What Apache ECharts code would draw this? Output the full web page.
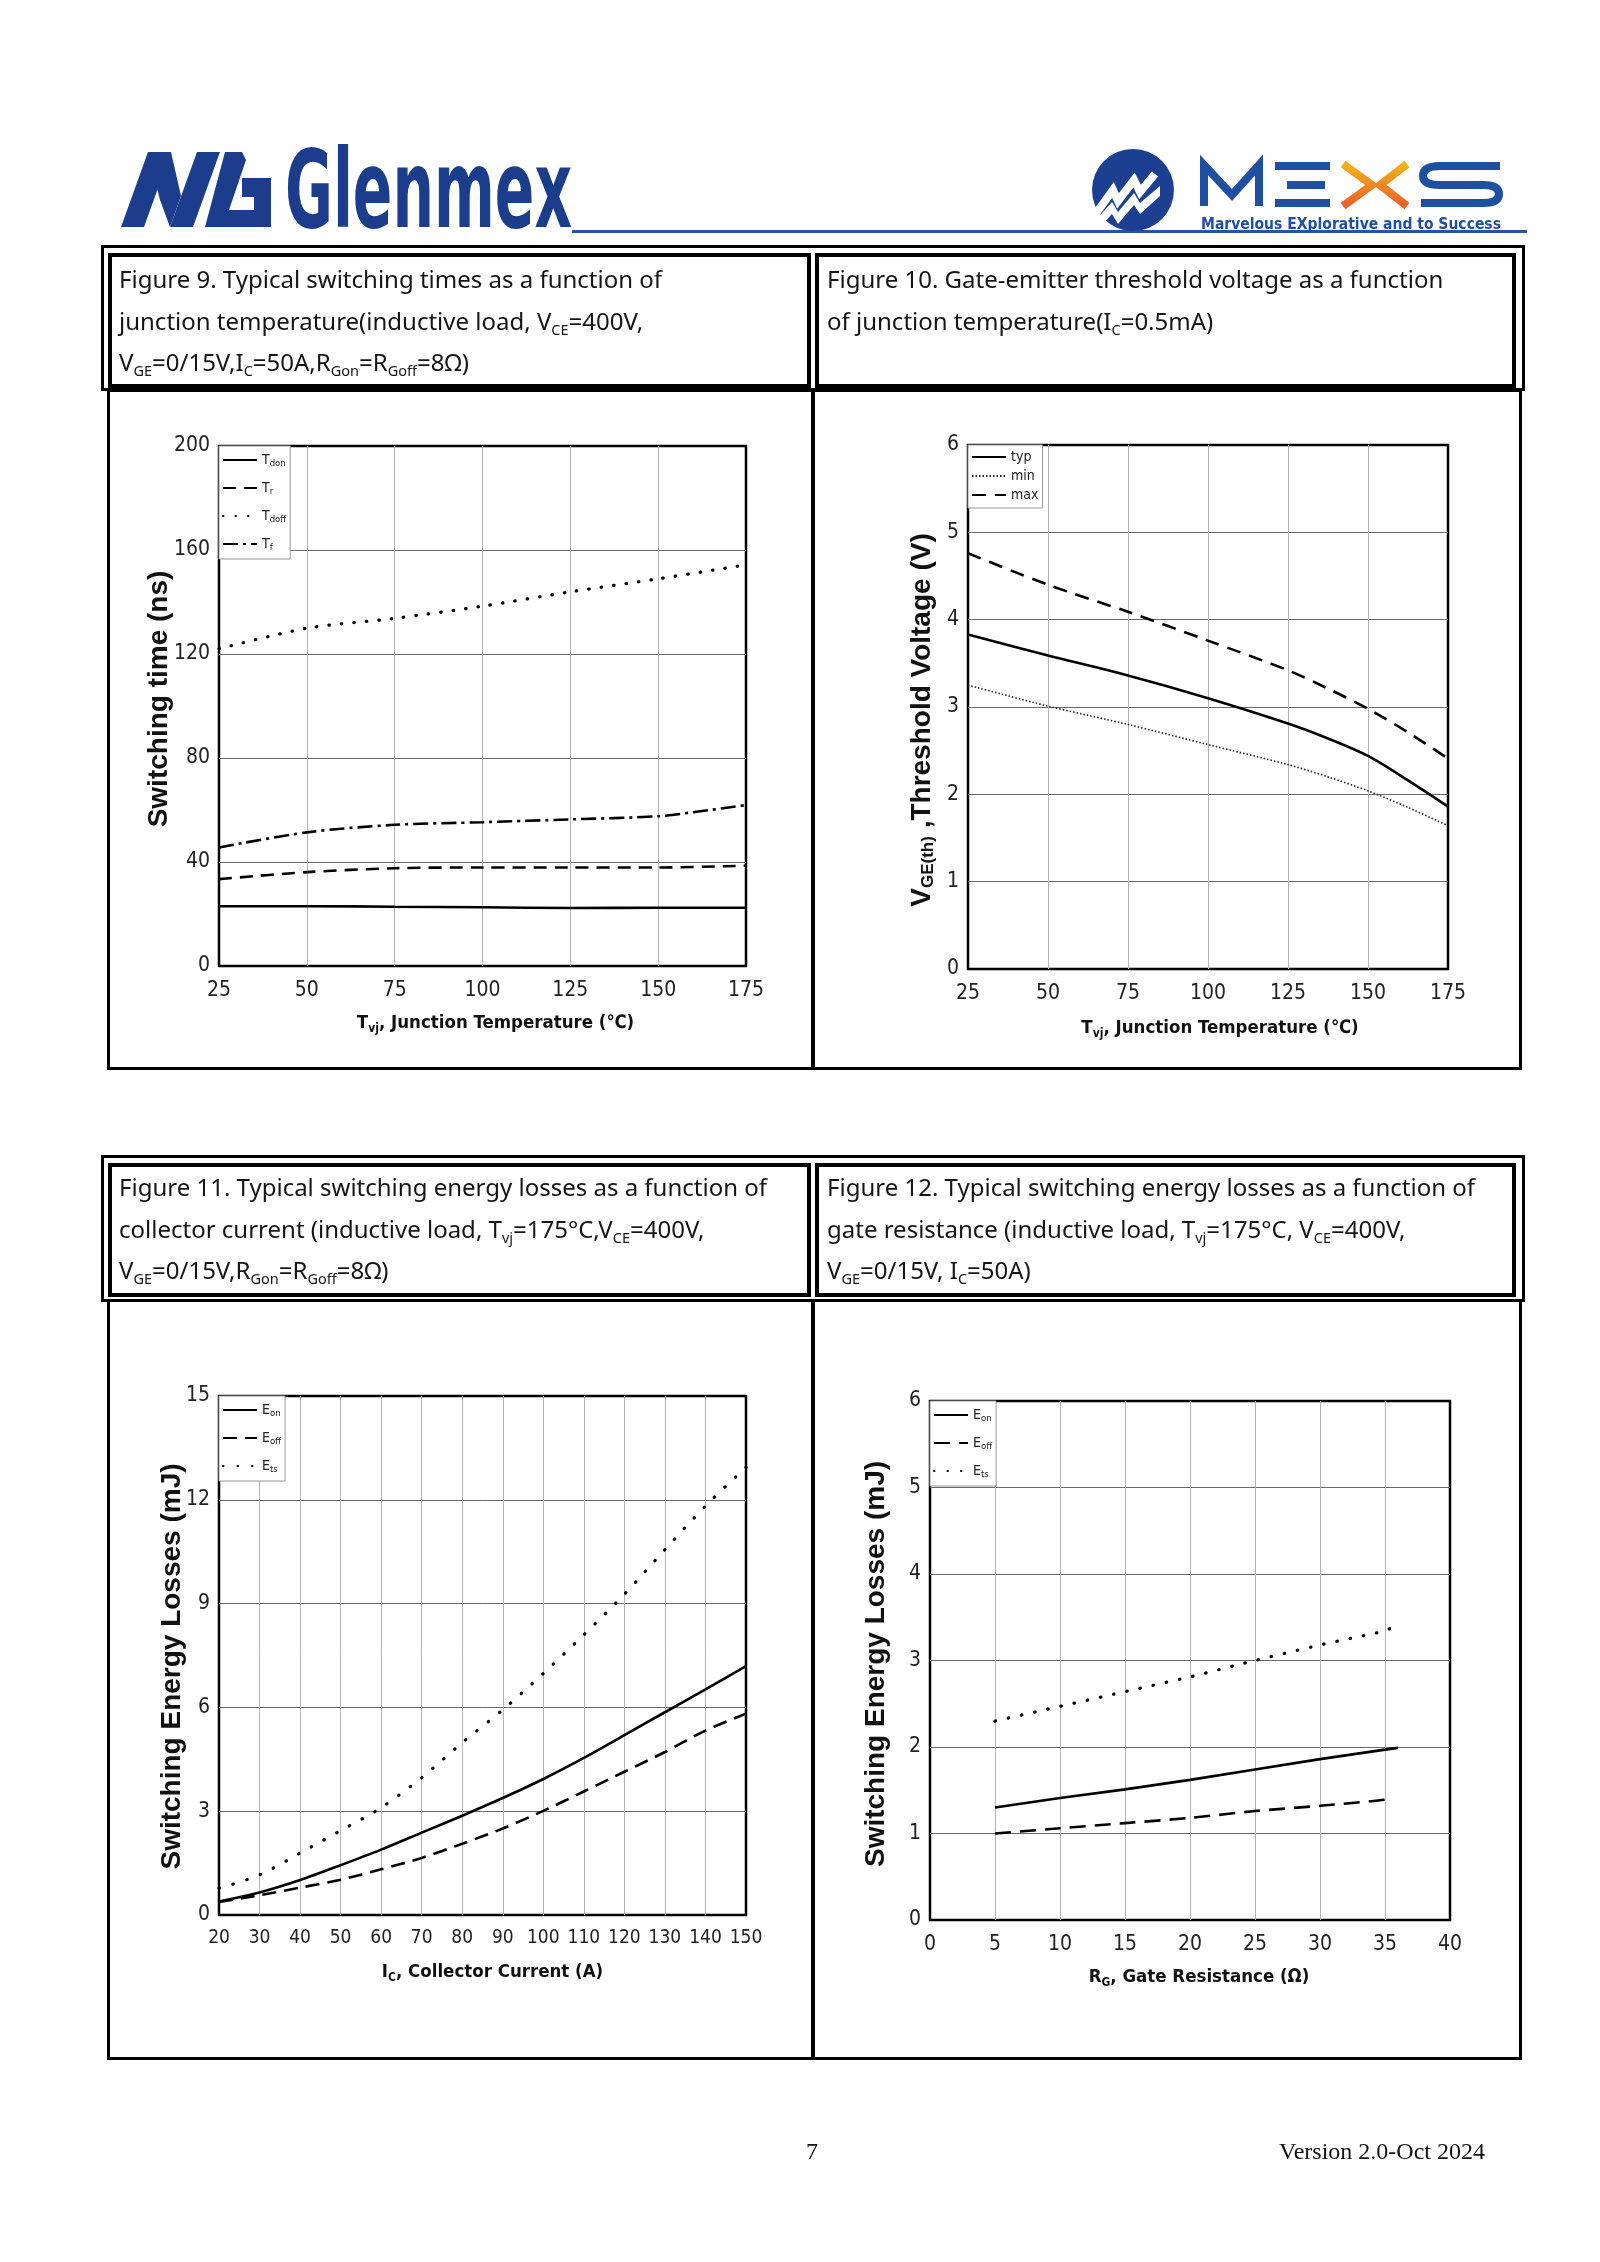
<!DOCTYPE html>
<html><head><meta charset="utf-8">
<script src="https://cdn.jsdelivr.net/npm/echarts@6/dist/echarts.min.js"></script>
<style>
html,body{margin:0;padding:0;background:#fff;}
#page{position:relative;width:1600px;height:2262px;overflow:hidden;background:#fff;}
#chart{position:absolute;left:0;top:0;width:1600px;height:2262px;}
.box{position:absolute;box-sizing:border-box;border:3px solid #000;}
.cell{position:absolute;box-sizing:border-box;border:4px solid #000;}
.vl{position:absolute;background:#000;}
.cap{position:absolute;font-family:'Noto Sans',sans-serif;font-size:24px;line-height:41.5px;color:#151515;white-space:nowrap;}
.cap sub{font-size:14.5px;line-height:0;vertical-align:-5px;}
.foot{position:absolute;font-family:'Liberation Serif','Times New Roman',serif;font-size:24px;color:#111;white-space:nowrap;line-height:30px;}
</style></head>
<body><div id="page">
<div id="chart"></div>

<svg style="position:absolute;left:0;top:0" width="1600" height="245">
  <g fill="#1b3d8c">
    <polygon points="121,227 144,227 171,152 148,152"/>
    <polygon points="148,152 171,152 181,196 170,227 160,200"/>
    <polygon points="170,227 193,227 220,152 197,152"/>
    <polygon points="205,227 271,227 271,178 242,178 242,197 254,197 254,210 229,210 246,160 242,152 225,152"/>
  </g>
  <text transform="translate(285,227) scale(1,1.3)" x="0" y="0" font-family="'Liberation Sans Narrow','DejaVu Sans Condensed',sans-serif" font-weight="bold" font-size="83" fill="#1b3d8c" textLength="287" lengthAdjust="spacingAndGlyphs">Glenmex</text>
  <rect x="572" y="230" width="955" height="3" fill="#2d50a0"/>
  <circle cx="1133" cy="190" r="41" fill="#1d3f91"/>
  <polygon points="1094,222 1112,202 1118,212 1134,193 1140,203 1160,186 1160,196 1140,214 1134,205 1118,224 1112,214 1099,228" fill="#fff"/>
  <polyline points="1097,212 1113,190 1118,201 1134,180 1140,192 1155,174" fill="none" stroke="#fff" stroke-width="8" stroke-linejoin="miter"/>
  <g fill="none" stroke="#1f4fa0" stroke-width="8">
    <polyline points="1204,206 1204,165 1232,195 1259,165 1259,206"/>
    <line x1="1275" y1="166" x2="1330" y2="166"/>
    <line x1="1287" y1="185" x2="1325" y2="185"/>
    <line x1="1275" y1="203" x2="1330" y2="203"/>
    <path d="M1500,166 H1440 Q1423,166 1423,176 Q1423,185 1440,185 H1483 Q1499,185 1499,194 Q1499,203 1483,203 H1421"/>
  </g>
  <defs><linearGradient id="og" x1="0" y1="0" x2="0" y2="1"><stop offset="0" stop-color="#f6b21b"/><stop offset="1" stop-color="#e8602a"/></linearGradient></defs>
  <g fill="none" stroke="url(#og)" stroke-width="8">
    <polyline points="1343,164 1372,185 1343,206"/>
    <polyline points="1407,164 1380,185 1407,206"/>
  </g>
  <text x="1201" y="229" font-family="'Liberation Sans Narrow','DejaVu Sans Condensed',sans-serif" font-weight="bold" font-size="15" fill="#1f4fa0" textLength="300" lengthAdjust="spacingAndGlyphs">Marvelous EXplorative and to Success</text>
</svg>

<!-- header 1 -->
<div class="box" style="left:101px;top:245px;width:1424px;height:146px;"></div>
<div class="cell" style="left:108px;top:253px;width:703px;height:135px;"></div>
<div class="cell" style="left:815px;top:253px;width:701px;height:135px;"></div>
<div class="cap" style="left:119px;top:258px;">Figure 9. Typical switching times as a function of<br>junction temperature(inductive load, V<sub>CE</sub>=400V,<br>V<sub>GE</sub>=0/15V,I<sub>C</sub>=50A,R<sub>Gon</sub>=R<sub>Goff</sub>=8Ω)</div>
<div class="cap" style="left:827px;top:258px;">Figure 10. Gate-emitter threshold voltage as a function<br>of junction temperature(I<sub>C</sub>=0.5mA)</div>
<!-- body 1 -->
<div class="box" style="left:107px;top:389px;width:1415px;height:681px;"></div>
<div class="vl" style="left:811px;top:391px;width:4px;height:677px;"></div>

<!-- header 2 -->
<div class="box" style="left:101px;top:1155px;width:1424px;height:147px;"></div>
<div class="cell" style="left:108px;top:1163px;width:703px;height:134px;"></div>
<div class="cell" style="left:815px;top:1163px;width:701px;height:134px;"></div>
<div class="cap" style="left:119px;top:1166px;">Figure 11. Typical switching energy losses as a function of<br>collector current (inductive load, T<sub>vj</sub>=175°C,V<sub>CE</sub>=400V,<br>V<sub>GE</sub>=0/15V,R<sub>Gon</sub>=R<sub>Goff</sub>=8Ω)</div>
<div class="cap" style="left:827px;top:1166px;">Figure 12. Typical switching energy losses as a function of<br>gate resistance (inductive load, T<sub>vj</sub>=175°C, V<sub>CE</sub>=400V,<br>V<sub>GE</sub>=0/15V, I<sub>C</sub>=50A)</div>
<!-- body 2 -->
<div class="box" style="left:107px;top:1299px;width:1415px;height:761px;"></div>
<div class="vl" style="left:811px;top:1301px;width:4px;height:757px;"></div>

<div class="foot" style="left:762px;width:100px;text-align:center;top:2136px;">7</div>
<div class="foot" style="left:1185px;width:300px;text-align:right;top:2136px;">Version 2.0-Oct 2024</div>
</div>

<script>
// ---------- Figure 9: switching times vs junction temperature ----------
const fig9Temp = [25, 50, 75, 100, 125, 150, 175];
const fig9TempTf = [25, 50, 75, 100, 125, 150, 162.5, 175];
const fig9Tdon = [23.0, 23.0, 22.8, 22.6, 22.3, 22.4, 22.4];
const fig9Tr = [33.4, 36.1, 37.6, 37.9, 37.9, 37.9, 38.6];
const fig9Tdoff = [122.0, 129.9, 133.7, 138.4, 143.9, 148.9, 154.3];
const fig9Tf = [45.6, 51.4, 54.3, 55.3, 56.4, 57.6, 59.6, 61.9];

// ---------- Figure 10: gate-emitter threshold voltage ----------
const fig10Temp = [25, 50, 75, 100, 125, 137.5, 150, 162.5, 175];
const fig10Typ = [3.83, 3.59, 3.36, 3.10, 2.81, 2.64, 2.44, 2.16, 1.86];
const fig10Min = [3.25, 3.01, 2.80, 2.57, 2.34, 2.20, 2.04, 1.85, 1.64];
const fig10Max = [4.76, 4.40, 4.09, 3.76, 3.42, 3.21, 2.98, 2.71, 2.41];

// ---------- Figure 11: energy losses vs collector current ----------
const fig11Ic = [20, 30, 40, 50, 60, 70, 80, 90, 100, 110, 120, 130, 140, 150];
const fig11Eon = [0.39, 0.65, 1.01, 1.44, 1.89, 2.38, 2.87, 3.38, 3.93, 4.54, 5.20, 5.86, 6.52, 7.19];
const fig11Eoff = [0.38, 0.57, 0.79, 1.02, 1.32, 1.65, 2.06, 2.50, 3.01, 3.57, 4.14, 4.71, 5.33, 5.82];
const fig11Ets = [0.77, 1.16, 1.79, 2.44, 3.10, 3.97, 4.98, 5.93, 6.98, 8.10, 9.27, 10.56, 11.82, 12.94];

// ---------- Figure 12: energy losses vs gate resistance ----------
const fig12RgOn = [5, 10, 15, 20, 25, 30, 35, 36];
const fig12RgOff = [5, 10, 15, 20, 25, 30, 35, 35.5];
const fig12RgTs = [5, 10, 15, 20, 25, 30, 35, 35.6];
const fig12Eon = [1.30, 1.41, 1.51, 1.62, 1.74, 1.86, 1.97, 1.99];
const fig12Eoff = [1.00, 1.06, 1.12, 1.18, 1.26, 1.32, 1.39, 1.42];
const fig12Ets = [2.30, 2.47, 2.64, 2.81, 3.00, 3.18, 3.34, 3.39];

// axis ranges / ticks [min, max, interval]
const axes = [
  {x: [25, 175, 25], y: [0, 200, 40]},
  {x: [25, 175, 25], y: [0, 6, 1]},
  {x: [20, 150, 10], y: [0, 15, 3]},
  {x: [0, 40, 5], y: [0, 6, 1]}
];

const COND = "'DejaVu Sans Condensed','Liberation Sans Narrow','Arial Narrow',sans-serif";
const SANS = "'Liberation Sans',Arial,sans-serif";

const grids = [
  {left: 219, top: 446, width: 527, height: 520},
  {left: 968, top: 445, width: 480, height: 524},
  {left: 219, top: 1396, width: 527, height: 519},
  {left: 930, top: 1401, width: 520, height: 519}
].map(g => Object.assign({show: true, borderColor: '#000', borderWidth: 2.5, backgroundColor: 'rgba(0,0,0,0)', containLabel: false}, g));

const xNameRich = {
  a: {fontFamily: COND, fontWeight: 'bold', fontSize: 18.5, color: '#111', lineHeight: 24},
  s: {fontFamily: COND, fontWeight: 'bold', fontSize: 12, color: '#111', padding: [11, 0, 0, 0], lineHeight: 14}
};
const yNameRich = {
  b: {fontFamily: SANS, fontWeight: 'bold', fontSize: 28, color: '#111', lineHeight: 30},
  s: {fontFamily: SANS, fontWeight: 'bold', fontSize: 17, color: '#111', padding: [12, 0, 0, 0], lineHeight: 18}
};
const xNames = [
  '{a|T}{s|vj}{a|, Junction Temperature (℃)}',
  '{a|T}{s|vj}{a|, Junction Temperature (℃)}',
  '{a|I}{s|C}{a|, Collector Current (A)}',
  '{a|R}{s|G}{a|, Gate Resistance (Ω)}'
];
const yNames = [
  '{b|Switching time (ns)}',
  '{b|V}{s|GE(th)}{b| ,Threshold Voltage (V)}',
  '{b|Switching Energy Losses (mJ)}',
  '{b|Switching Energy Losses (mJ)}'
];
const xNameGaps = [45, 47, 45, 45];
const yNameGaps = [45, 31, 32, 39];
const xNamePads = [[0, 0, 0, 26], [0, 0, 0, 24], [0, 0, 0, 20], [0, 0, 0, 18]];
const yNamePads = [[0, 0, 0, 14], [0, 26, 0, 0], [0, 22, 0, 0], [0, 7, 0, 0]];
const xLabelSizes = [21, 21, 19, 21];

const xAxis = axes.map((a, i) => ({
  type: 'value', gridIndex: i, min: a.x[0], max: a.x[1], interval: a.x[2], position: 'bottom',
  axisLine: {show: false}, axisTick: {show: false},
  axisLabel: {color: '#222', fontFamily: COND, fontSize: xLabelSizes[i], margin: 14, hideOverlap: false},
  splitLine: {show: true, showMinLine: false, showMaxLine: false, lineStyle: {color: '#b4b4b4', width: 1}},
  name: xNames[i], nameLocation: 'middle', nameGap: xNameGaps[i], nameMoveOverlap: false,
  nameTextStyle: {rich: xNameRich, padding: xNamePads[i]}
}));
const yAxis = axes.map((a, i) => ({
  type: 'value', gridIndex: i, min: a.y[0], max: a.y[1], interval: a.y[2], position: 'left',
  axisLine: {show: false}, axisTick: {show: false},
  axisLabel: {color: '#222', fontFamily: COND, fontSize: 21, margin: 9},
  splitLine: {show: true, showMinLine: false, showMaxLine: false, lineStyle: {color: '#6a6a6a', width: 1}},
  name: yNames[i], nameLocation: 'middle', nameGap: yNameGaps[i], nameMoveOverlap: false,
  nameTextStyle: {rich: yNameRich, padding: yNamePads[i]}
}));

function ser(name, xs, ys, gi, style, smooth) {
  return {
    name: name, type: 'line', xAxisIndex: gi, yAxisIndex: gi,
    data: xs.map((x, k) => [x, ys[k]]),
    symbol: 'none', smooth: smooth == null ? 0.3 : smooth, z: 3,
    lineStyle: Object.assign({color: '#000', width: 2.5}, style),
    itemStyle: {color: '#000'},
    emphasis: {disabled: true}
  };
}
const SOLID = {type: 'solid', width: 2.6};
const DASH = {type: [13, 8], width: 2.6};
const DOT = {type: [0.5, 12], width: 3.2, cap: 'round'};
const DASHDOT = {type: [15, 5, 3, 5], width: 2.6};

const series = [
  ser('Tdon', fig9Temp, fig9Tdon, 0, SOLID),
  ser('Tr', fig9Temp, fig9Tr, 0, DASH),
  ser('Tdoff', fig9Temp, fig9Tdoff, 0, DOT),
  ser('Tf', fig9TempTf, fig9Tf, 0, DASHDOT),
  ser('typ', fig10Temp, fig10Typ, 1, SOLID),
  ser('min', fig10Temp, fig10Min, 1, {type: [1.5, 2], width: 1.6, color: '#222'}),
  ser('max', fig10Temp, fig10Max, 1, {type: [14, 9], width: 2.6}),
  ser('Eon11', fig11Ic, fig11Eon, 2, SOLID),
  ser('Eoff11', fig11Ic, fig11Eoff, 2, {type: [14, 8], width: 2.6}),
  ser('Ets11', fig11Ic, fig11Ets, 2, {type: [0.5, 14], width: 3.2, cap: 'round'}),
  ser('Eon12', fig12RgOn, fig12Eon, 3, SOLID, 0),
  ser('Eoff12', fig12RgOff, fig12Eoff, 3, {type: [16, 9], width: 2.6}, 0.2),
  ser('Ets12', fig12RgTs, fig12Ets, 3, {type: [0.5, 13], width: 3.2, cap: 'round'}, 0)
];

const legRich = {
  m: {fontFamily: COND, fontSize: 14, color: '#222', lineHeight: 18},
  s: {fontFamily: COND, fontSize: 9.5, color: '#222', padding: [8, 0, 0, 0], lineHeight: 10}
};
const legLabels = {
  Tdon: '{m|T}{s|don}', Tr: '{m|T}{s|r}', Tdoff: '{m|T}{s|doff}', Tf: '{m|T}{s|f}',
  typ: '{m|typ}', min: '{m|min}', max: '{m|max}',
  Eon11: '{m|E}{s|on}', Eoff11: '{m|E}{s|off}', Ets11: '{m|E}{s|ts}',
  Eon12: '{m|E}{s|on}', Eoff12: '{m|E}{s|off}', Ets12: '{m|E}{s|ts}'
};
function leg(data, left, top, gap, pad) {
  return {
    orient: 'vertical', left: left, top: top, data: data,
    itemWidth: 34, itemHeight: 12, itemGap: gap, padding: pad,
    borderColor: '#999', borderWidth: 1, backgroundColor: '#fff', borderRadius: 0,
    selectedMode: false, z: 5,
    itemStyle: {color: 'rgba(0,0,0,0)', borderColor: 'rgba(0,0,0,0)', borderWidth: 0, opacity: 0},
    formatter: n => legLabels[n], textStyle: {rich: legRich}
  };
}

const option = {
  animation: false,
  backgroundColor: 'rgba(0,0,0,0)',
  grid: grids, xAxis: xAxis, yAxis: yAxis, series: series,
  legend: [
    leg(['Tdon', 'Tr', 'Tdoff', 'Tf'], 219, 446, 10, [5, 4, 6, 3]),
    leg(['typ', 'min', 'max'], 968, 445, 5, [5, 4, 6, 3]),
    leg(['Eon11', 'Eoff11', 'Ets11'], 219, 1396, 10, [5, 4, 6, 3]),
    leg(['Eon12', 'Eoff12', 'Ets12'], 930, 1401, 10, [5, 4, 6, 3])
  ]
};
const chart = echarts.init(document.getElementById('chart'), null, {renderer: 'canvas'});
chart.setOption(option);
</script>
</body></html>
